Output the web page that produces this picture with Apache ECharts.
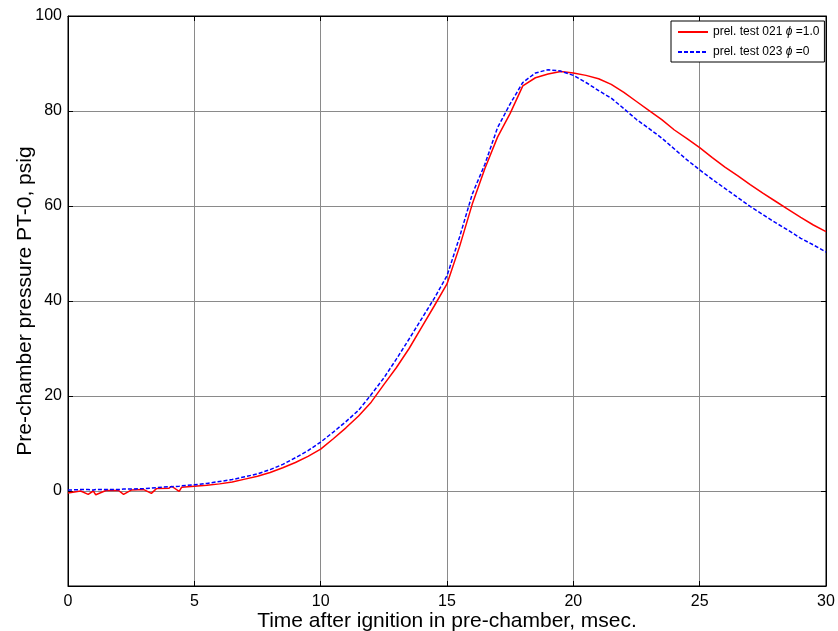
<!DOCTYPE html>
<html>
<head>
<meta charset="utf-8">
<script src="https://cdn.jsdelivr.net/npm/echarts@6/dist/echarts.min.js"></script>
<style>html,body{margin:0;padding:0;background:#fff}#c{width:838px;height:631px}</style>
</head>
<body>
<div id="c"></div>
<script>
const timeMs = [0,0.5,0.8,1,1.1,1.5,2,2.2,2.5,3,3.3,3.5,4,4.1,4.4,4.5,5,5.5,6,6.5,7,7.5,8,8.5,9,9.5,10,10.5,11,11.5,12,12.5,13,13.5,14,14.5,15,15.5,16,16.5,17,17.5,18,18.5,19,19.5,20,20.5,21,21.5,22,22.5,23,23.5,24,24.5,25,25.5,26,26.5,27,27.5,28,28.5,29,29.5,30];
const test021 = [-0.4,0.0,-0.7,0.0,-0.8,0.1,0.1,-0.7,0.2,0.3,-0.5,0.5,0.6,1.0,-0.1,0.8,1.0,1.2,1.5,1.9,2.5,3.1,3.9,4.9,6.0,7.3,8.8,11.0,13.3,15.8,18.7,22.4,26.0,30.0,34.5,39.0,43.6,51.5,60.4,67.9,74.5,79.5,85.3,87.0,87.8,88.3,88.0,87.5,86.8,85.6,83.9,82.0,80.1,78.2,76.0,74.2,72.3,70.2,68.2,66.4,64.5,62.7,61.0,59.3,57.6,56.0,54.6];
const test023 = [0.2,0.3,0.3,0.2,0.3,0.3,0.3,0.4,0.4,0.5,0.6,0.7,0.9,0.9,1.0,1.1,1.3,1.6,2.0,2.4,3.0,3.6,4.5,5.6,7.0,8.5,10.3,12.4,14.6,17.0,20.3,23.8,27.8,32.0,36.3,40.6,45.3,53.5,62.5,68.8,76.5,81.5,86.0,88.0,88.7,88.4,87.5,86.0,84.3,82.7,80.5,78.2,76.3,74.3,72.0,69.7,67.6,65.6,63.7,61.8,59.9,58.2,56.5,54.9,53.2,51.8,50.3];
const seriesNames = ['prel. test 021 ϕ =1.0', 'prel. test 023 ϕ =0'];
const xTitle = 'Time after ignition in pre-chamber, msec.';
const yTitle = 'Pre-chamber pressure PT-0, psig';

const chart = echarts.init(document.getElementById('c'), null, {renderer: 'canvas'});
const font = 'Liberation Sans, Arial, sans-serif';
const pair = arr => timeMs.map((t, i) => [t, arr[i]]);
const tickStyle = {show: true, inside: true, length: 5, lineStyle: {color: '#000'}};
chart.setOption({
  animation: false,
  backgroundColor: '#fff',
  textStyle: {fontFamily: font, color: '#000'},
  grid: {left: 68, right: 12, top: 16, bottom: 45, show: true, borderColor: '#000', borderWidth: 1, backgroundColor: 'transparent', containLabel: false, outerBoundsMode: 'none'},
  legend: {
    show: true, orient: 'vertical', left: 671, top: 21,
    backgroundColor: '#fff', borderColor: '#000', borderWidth: 1,
    padding: [5, 5, 4, 6], itemGap: 8, itemWidth: 30, itemHeight: 10,
    itemStyle: {opacity: 0},
    formatter: name => name.replace('ϕ', '{p|ϕ}'),
    textStyle: {fontFamily: font, fontSize: 12, color: '#000', rich: {p: {fontStyle: 'italic', fontFamily: font, fontSize: 12, color: '#000'}}},
    data: seriesNames
  },
  xAxis: [{
    type: 'value', min: 0, max: 30, interval: 5, position: 'bottom',
    name: xTitle, nameLocation: 'middle', nameGap: 25, nameMoveOverlap: false,
    nameTextStyle: {fontSize: 21, fontFamily: font, color: '#000'},
    axisLine: {show: true, onZero: false, lineStyle: {color: '#000'}},
    axisTick: tickStyle,
    axisLabel: {fontSize: 16, color: '#000', fontFamily: font, margin: 8},
    splitLine: {show: true, lineStyle: {color: '#8a8a8a', width: 1}}
  }, {
    type: 'value', min: 0, max: 30, interval: 5, position: 'top',
    axisLine: {show: true, onZero: false, lineStyle: {color: '#000'}},
    axisTick: tickStyle, axisLabel: {show: false}, splitLine: {show: false}
  }],
  yAxis: [{
    type: 'value', min: -20, max: 100, interval: 20, position: 'left',
    name: yTitle, nameLocation: 'middle', nameGap: 32, nameMoveOverlap: false,
    nameTextStyle: {fontSize: 21, fontFamily: font, color: '#000'},
    axisLine: {show: true, onZero: false, lineStyle: {color: '#000'}},
    axisTick: tickStyle,
    axisLabel: {fontSize: 16, color: '#000', fontFamily: font, margin: 6, formatter: v => v === -20 ? '' : String(v)},
    splitLine: {show: true, lineStyle: {color: '#8a8a8a', width: 1}}
  }, {
    type: 'value', min: -20, max: 100, interval: 20, position: 'right',
    axisLine: {show: true, onZero: false, lineStyle: {color: '#000'}},
    axisTick: tickStyle, axisLabel: {show: false}, splitLine: {show: false}
  }],
  series: [{
    name: seriesNames[0], type: 'line', xAxisIndex: 0, yAxisIndex: 0,
    data: pair(test021), showSymbol: false, symbol: 'none',
    lineStyle: {color: '#ff0000', width: 1.5, type: 'solid'}, itemStyle: {color: '#ff0000'}, z: 3
  }, {
    name: seriesNames[1], type: 'line', xAxisIndex: 0, yAxisIndex: 0,
    data: pair(test023), showSymbol: false, symbol: 'none',
    lineStyle: {color: '#0000ff', width: 1.5, type: [4, 2]}, itemStyle: {color: '#0000ff'}, z: 4
  }]
});
</script>
</body>
</html>
